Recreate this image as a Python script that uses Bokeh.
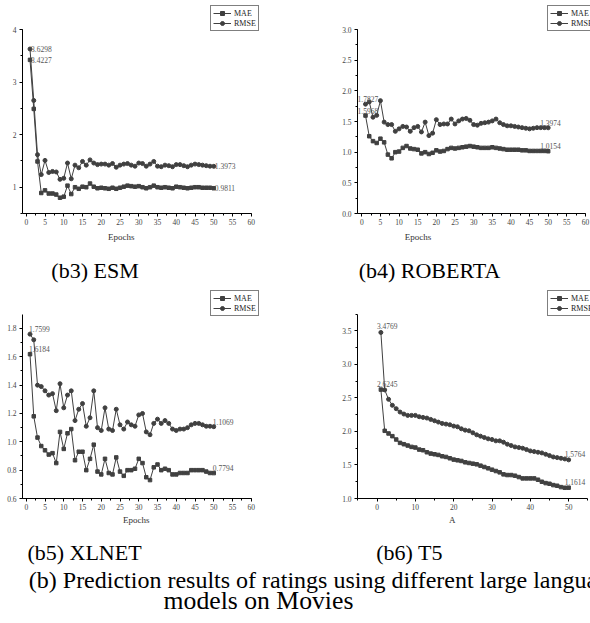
from bokeh.plotting import figure
from bokeh.layouts import column, row
from bokeh.models import (Range1d, SingleIntervalTicker, NumeralTickFormatter, Legend,
                          LegendItem, ColumnDataSource)
from bokeh.core.properties import value
from bokeh.embed import file_html
from bokeh.resources import INLINE

# ---------------- data ----------------
epochs = list(range(1, 51))

esm_mae = [3.4227, 2.49, 1.49, 0.89, 0.94, 0.88, 0.88, 0.86, 0.80, 0.82,
           1.03, 0.87, 1.00, 0.97, 1.01, 1.00, 1.07, 1.01, 0.98, 0.99,
           0.98, 0.97, 0.99, 0.97, 0.99, 1.01, 1.03, 1.02, 1.01, 1.02,
           1.00, 0.98, 1.00, 1.03, 1.00, 0.99, 1.00, 0.99, 0.98, 1.01,
           1.00, 0.99, 0.98, 0.99, 1.00, 1.00, 0.99, 0.99, 0.99, 0.9811]
esm_rmse = [3.6298, 2.65, 1.62, 1.24, 1.51, 1.28, 1.30, 1.29, 1.15, 1.17,
            1.46, 1.16, 1.42, 1.37, 1.49, 1.42, 1.52, 1.46, 1.43, 1.44,
            1.44, 1.42, 1.45, 1.38, 1.42, 1.44, 1.45, 1.42, 1.40, 1.46,
            1.45, 1.40, 1.44, 1.49, 1.40, 1.39, 1.42, 1.41, 1.39, 1.43,
            1.43, 1.41, 1.39, 1.42, 1.44, 1.43, 1.42, 1.41, 1.40, 1.3973]

roberta_mae = [1.5968, 1.26, 1.18, 1.15, 1.22, 1.16, 0.96, 0.90, 1.00, 1.01,
               1.07, 1.10, 1.06, 1.05, 1.04, 0.98, 1.00, 0.97, 0.99, 1.03,
               1.01, 1.02, 1.05, 1.07, 1.06, 1.07, 1.08, 1.09, 1.10, 1.09,
               1.08, 1.07, 1.07, 1.07, 1.08, 1.07, 1.06, 1.05, 1.04, 1.04,
               1.04, 1.04, 1.03, 1.03, 1.02, 1.02, 1.02, 1.02, 1.02, 1.0154]
roberta_rmse = [1.7827, 1.82, 1.57, 1.60, 1.84, 1.49, 1.45, 1.45, 1.34, 1.38,
                1.42, 1.41, 1.34, 1.40, 1.42, 1.33, 1.49, 1.27, 1.31, 1.53,
                1.45, 1.46, 1.46, 1.54, 1.46, 1.51, 1.54, 1.55, 1.52, 1.45,
                1.44, 1.47, 1.48, 1.49, 1.51, 1.54, 1.48, 1.45, 1.43, 1.43,
                1.42, 1.41, 1.40, 1.39, 1.38, 1.39, 1.40, 1.40, 1.40, 1.3974]

xlnet_mae = [1.6184, 1.18, 1.03, 0.97, 0.94, 0.91, 0.92, 0.85, 1.07, 0.95,
             1.06, 1.09, 0.87, 0.93, 0.93, 0.80, 0.88, 0.98, 0.79, 0.77,
             0.88, 0.78, 0.77, 0.89, 0.79, 0.76, 0.80, 0.80, 0.81, 0.88,
             0.85, 0.75, 0.73, 0.82, 0.84, 0.80, 0.81, 0.80, 0.77, 0.77,
             0.78, 0.78, 0.78, 0.80, 0.80, 0.80, 0.80, 0.79, 0.78, 0.7794]
xlnet_rmse = [1.7599, 1.72, 1.40, 1.39, 1.36, 1.33, 1.34, 1.22, 1.41, 1.24,
              1.33, 1.36, 1.15, 1.23, 1.27, 1.11, 1.17, 1.36, 1.10, 1.08,
              1.24, 1.09, 1.08, 1.23, 1.12, 1.09, 1.14, 1.12, 1.11, 1.19,
              1.20, 1.07, 1.05, 1.13, 1.16, 1.13, 1.15, 1.13, 1.09, 1.08,
              1.09, 1.09, 1.10, 1.12, 1.13, 1.13, 1.12, 1.11, 1.11, 1.1069]

t5_mae = [2.6245, 2.01, 1.97, 1.93, 1.88, 1.83, 1.81, 1.79, 1.77, 1.76,
          1.73, 1.72, 1.69, 1.67, 1.66, 1.65, 1.63, 1.62, 1.60, 1.58,
          1.57, 1.56, 1.54, 1.53, 1.52, 1.51, 1.49, 1.47, 1.45, 1.43,
          1.41, 1.39, 1.36, 1.35, 1.35, 1.34, 1.32, 1.30, 1.30, 1.30,
          1.30, 1.28, 1.25, 1.23, 1.22, 1.20, 1.19, 1.17, 1.16, 1.1614]
t5_rmse = [3.4769, 2.62, 2.48, 2.39, 2.34, 2.29, 2.26, 2.24, 2.24, 2.24,
           2.22, 2.21, 2.20, 2.18, 2.16, 2.14, 2.12, 2.11, 2.10, 2.08,
           2.07, 2.04, 2.02, 2.01, 1.98, 1.95, 1.93, 1.91, 1.89, 1.88,
           1.86, 1.86, 1.84, 1.81, 1.79, 1.77, 1.76, 1.75, 1.73, 1.71,
           1.70, 1.69, 1.68, 1.66, 1.64, 1.62, 1.61, 1.60, 1.59, 1.5764]

series_names = ["MAE", "RMSE"]
subcaptions = ["(b3) ESM", "(b4) ROBERTA", "(b5) XLNET", "(b6) T5"]
x_titles = ["Epochs", "Epochs", "Epochs", "A"]
caption_line1 = "(b) Prediction results of ratings using different large language"
caption_line2 = "models on Movies"

# ---------------- style ----------------
INK = "#404040"
SERIF = "Liberation Serif"
HALF_W = 295
FULL_W = 2 * HALF_W


def panel(mae, rmse, xr, xb, yr, yb, xint, yint, yfmt, left, right, height,
          legend_xy, lab_dx, lab_dy):
    p = figure(width=HALF_W, height=height, x_range=Range1d(*xr), y_range=Range1d(*yr),
               output_backend="svg", toolbar_location=None, title=None,
               min_border_left=left, min_border_right=right,
               min_border_top=0, min_border_bottom=16)
    p.outline_line_color = None
    p.grid.visible = False
    p.xaxis.bounds = xb
    p.yaxis.bounds = yb
    p.xaxis.ticker = SingleIntervalTicker(interval=xint, num_minor_ticks=2)
    p.yaxis.ticker = SingleIntervalTicker(interval=yint, num_minor_ticks=2)
    p.yaxis.formatter = NumeralTickFormatter(format=yfmt)
    p.xaxis.formatter = NumeralTickFormatter(format="0")
    for ax in (p.xaxis[0], p.yaxis[0]):
        ax.axis_line_color = "black"
        ax.axis_line_width = 1
        ax.major_tick_line_color = "black"
        ax.minor_tick_line_color = "black"
        ax.major_tick_out = 3
        ax.major_tick_in = 0
        ax.minor_tick_out = 2
        ax.minor_tick_in = 0
        ax.major_label_text_font = SERIF
        ax.major_label_text_font_size = "7.5px"
        ax.major_label_text_color = "#444444"
    p.xaxis.major_label_standoff = 2
    p.yaxis.major_label_standoff = 3

    src = ColumnDataSource(dict(x=epochs, mae=mae, rmse=rmse))
    l1 = p.line("x", "mae", source=src, line_color=INK, line_width=1)
    s1 = p.scatter("x", "mae", source=src, marker="square", size=3.5,
                   fill_color=INK, line_color=INK)
    l2 = p.line("x", "rmse", source=src, line_color=INK, line_width=1)
    s2 = p.scatter("x", "rmse", source=src, marker="circle", size=4,
                   fill_color=INK, line_color=INK)

    lab = ColumnDataSource(dict(
        x=[epochs[0], epochs[0], epochs[-1], epochs[-1]],
        y=[rmse[0], mae[0], rmse[-1], mae[-1]],
        t=["%.4f" % v for v in (rmse[0], mae[0], rmse[-1], mae[-1])]))
    p.text("x", "y", text="t", source=lab, text_font=value(SERIF),
           text_font_size="7.5px", text_color="#555555", text_align="left",
           text_baseline="middle", x_offset=lab_dx, y_offset=lab_dy)

    leg = Legend(items=[LegendItem(label=series_names[0], renderers=[l1, s1]),
                        LegendItem(label=series_names[1], renderers=[l2, s2])],
                 location=legend_xy, orientation="vertical", margin=0, padding=2,
                 spacing=0, glyph_width=18, glyph_height=10, label_height=10,
                 label_standoff=3, label_text_font=SERIF, label_text_font_size="8px",
                 label_text_color="#222222", border_line_color="black",
                 border_line_width=1, background_fill_color="white",
                 background_fill_alpha=1)
    p.add_layout(leg)
    return p


# frames: row 1 frame spans y 0..213, row 2 frame spans y 290..498 (page px)
f_esm = panel(esm_mae, esm_rmse, (-1, 63), (-1, 60), (0.5, 4.552), (0.5, 4), 5, 1, "0",
              22, 33, 229, (188, 182), 1, 0)
f_rob = panel(roberta_mae, roberta_rmse, (-1.15, 61.35), (-1.15, 60), (0, 3.473), (0, 3), 5, 0.5,
              "0.0", 62, 0, 229, (190, 182), -8, -5)
f_xl = panel(xlnet_mae, xlnet_rmse, (-1, 63), (-1, 60), (0.6, 2.068), (0.6, 1.9), 5, 0.2, "0.0",
             22, 33, 224, (188, 182), -1, -5)
f_t5 = panel(t5_mae, t5_rmse, (-5.1, 55.7), (-5.1, 55), (1.0, 4.103), (1.0, 3.75), 10, 0.5,
             "0.0", 62, 0, 224, (190, 182), -4, -6)


def caption_fig(height, xs, ys, texts, sizes, aligns):
    c = figure(width=FULL_W, height=height, x_range=Range1d(0, FULL_W),
               y_range=Range1d(height, 0), output_backend="svg", toolbar_location=None,
               title=None, x_axis_type=None, y_axis_type=None, min_border=0)
    c.outline_line_color = None
    c.grid.visible = False
    for x, y, t, s, a in zip(xs, ys, texts, sizes, aligns):
        col = "#333333" if s == "9px" else "black"
        c.text(x=[x], y=[y], text=[t], text_font=value(SERIF), text_font_size=s,
               text_align=a, text_baseline="middle", text_color=col)
    return c


# cap1 spans page y 229..290, cap2 spans page y 514..620
cap1 = caption_fig(61,
                   [120.7, 417.5, 94.5, 429],
                   [7, 7, 41, 41],
                   [x_titles[0], x_titles[1], subcaptions[0], subcaptions[1]],
                   ["9px", "9px", "22px", "22px"],
                   ["center", "center", "center", "center"])
cap2 = caption_fig(106,
                   [135.8, 451.7, 84, 409, 28.3, 258],
                   [5, 5, 38, 38, 65.5, 86],
                   [x_titles[2], x_titles[3], subcaptions[2], subcaptions[3],
                    caption_line1, caption_line2],
                   ["9px", "9px", "22px", "22px", "24px", "25.7px"],
                   ["center", "center", "center", "center", "left", "center"])

layout = column(row(f_esm, f_rob), cap1, row(f_xl, f_t5), cap2)

open("out.html", "w").write(file_html(layout, INLINE))
